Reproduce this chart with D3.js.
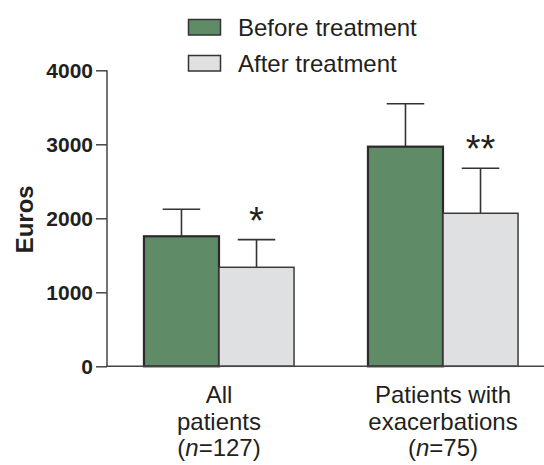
<!DOCTYPE html>
<html><head><meta charset="utf-8">
<script src="https://cdn.jsdelivr.net/npm/d3@7"></script>
<style>body{margin:0;background:#fff}svg{display:block}text{font-family:"Liberation Sans",Arial,sans-serif;fill:#231f20}</style>
</head><body>
<script>
const groups = ["all", "exac"];
const groupLabels = [["All", "patients", ["127"]], ["Patients with", "exacerbations", ["75"]]];
const seriesNames = ["Before treatment", "After treatment"];
const before = [1757, 2968];
const after = [1338, 2068];
const beforeErr = [2122, 3548];
const afterErr = [1712, 2676];
const signif = [["", "*"], ["", "**"]];
const yTicks = [0, 1000, 2000, 3000, 4000];
const colors = ["#5f8b66", "#dfe0e2"];
const strokes = ["#2a2a2a", "#3a3a3a"];

const W = 544, H = 465;
const svg = d3.select("body").append("svg").attr("width", W).attr("height", H);
const y = d3.scaleLinear().domain([0, 4000]).range([366.3, 70.3]);
const x0 = d3.scaleBand().domain(groups).range([107, 555]).paddingInner(0.33).paddingOuter(0.165);
const x1 = d3.scaleBand().domain([0, 1]).range([0, x0.bandwidth()]);

const data = groups.map((g, i) => [
  {g, s: 0, v: before[i], e: beforeErr[i], sig: signif[i][0]},
  {g, s: 1, v: after[i], e: afterErr[i], sig: signif[i][1]}
]).flat();

// y axis
const yAxis = svg.append("g").attr("transform", "translate(107,0)")
  .call(d3.axisLeft(y).tickValues(yTicks).tickSize(11).tickPadding(3).tickFormat(d3.format("d")));
yAxis.select(".domain").attr("stroke", "#444").attr("stroke-width", 1.5).attr("d", `M0,${y(4000)}V${y(0)}`);
yAxis.selectAll(".tick line").attr("stroke", "#444").attr("stroke-width", 1.5);
yAxis.selectAll(".tick text").attr("font-size", 21).attr("font-weight", "bold")
  .attr("font-family", "Liberation Sans, Arial, sans-serif").attr("fill", "#231f20");

svg.append("text").attr("transform", `translate(33,${(y(0)+y(4000))/2 + 1}) rotate(-90)`)
  .attr("text-anchor", "middle").attr("font-size", 24).attr("font-weight", "bold").text("Euros");

// error bars
const cx = d => x0(d.g) + x1(d.s) + x1.bandwidth() / 2;
svg.selectAll(".err").data(data).join("path").attr("class", "err")
  .attr("fill", "none").attr("stroke", "#333").attr("stroke-width", 1.6)
  .attr("d", d => `M${cx(d)},${y(d.v)}V${y(d.e)}M${cx(d) - x1.bandwidth()/4},${y(d.e)}H${cx(d) + x1.bandwidth()/4}`);

// bars
svg.selectAll(".bar").data(data).join("rect").attr("class", "bar")
  .attr("x", d => x0(d.g) + x1(d.s)).attr("width", x1.bandwidth())
  .attr("y", d => y(d.v)).attr("height", d => y(0) - y(d.v))
  .attr("fill", d => colors[d.s]).attr("stroke", d => strokes[d.s]).attr("stroke-width", d => d.s === 0 ? 2.2 : 1.5);

// baseline
svg.append("line").attr("x1", 106).attr("x2", 544).attr("y1", y(0)).attr("y2", y(0))
  .attr("stroke", "#444").attr("stroke-width", 1.5);

// significance
svg.selectAll(".sig").data(data.filter(d => d.sig)).join("text").attr("class", "sig")
  .attr("x", cx).attr("y", d => y(d.e) - 6).attr("text-anchor", "middle")
  .attr("font-size", 38).text(d => d.sig);

// x labels
groups.forEach((g, i) => {
  const t = svg.append("text").attr("text-anchor", "middle").attr("font-size", 24)
    .attr("x", x0(g) + x0.bandwidth()/2);
  const lbl = groupLabels[i];
  t.append("tspan").attr("x", x0(g) + x0.bandwidth()/2).attr("y", 402.5).text(lbl[0]);
  t.append("tspan").attr("x", x0(g) + x0.bandwidth()/2).attr("y", 429.5).text(lbl[1]);
  const l3 = t.append("tspan").attr("x", x0(g) + x0.bandwidth()/2).attr("y", 456);
  l3.append("tspan").text("(");
  l3.append("tspan").attr("font-style", "italic").text("n");
  l3.append("tspan").text("=" + lbl[2][0] + ")");
});

// legend
const leg = svg.append("g");
seriesNames.forEach((s, i) => {
  const ly = 19.5 + i * 36;
  leg.append("rect").attr("x", 188.5).attr("y", ly).attr("width", 32).attr("height", 15.5)
    .attr("fill", colors[i]).attr("stroke", "#333").attr("stroke-width", 1.5);
  leg.append("text").attr("x", 238).attr("y", ly + 16).attr("font-size", 24).text(s);
});
</script>
</body></html>
